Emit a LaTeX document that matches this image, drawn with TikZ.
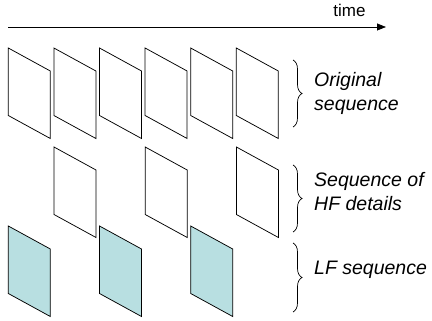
\documentclass[tikz,border=0pt]{standalone}
\usepackage{fontspec}
\setmainfont{Liberation Sans}
\usetikzlibrary{arrows.meta,decorations.pathreplacing}
\definecolor{lfteal}{HTML}{B8DFE1}
\tikzset{
  framebox/.style={draw=black,line width=0.75pt,line join=miter},
  lfbox/.style={framebox,fill=lfteal},
  bracestyle/.style={draw=black,line width=0.7pt,decorate,decoration={brace,amplitude=9pt,aspect=0.5}},
  label/.style={font=\fontsize{19.5}{24}\selectfont\itshape,align=left,anchor=west,inner sep=0pt},
  timearrow/.style={draw=black,line width=0.75pt,-{Triangle[length=9pt,width=7pt]}}
}
\newcommand{\frm}[3]{\path[#1] (#2,#3) -- ++(42,23) -- ++(0,67.5) -- ++(-42,-23) -- cycle;}
\begin{document}
\begin{tikzpicture}[x=1pt,y=-1pt]
\useasboundingbox (0,0) rectangle (432,321);
% time axis
\coordinate (tstart) at (8,27);
\coordinate (tend) at (386,27);
\draw[timearrow] (tstart) -- (tend);
\node[font=\fontsize{17}{20}\selectfont,inner sep=0pt] (time) at (349.5,10.5) {time};
% original sequence
\foreach \i in {0,...,5} {
  \pgfmathsetmacro{\xx}{8.3+45.6*\i}
  \frm{framebox}{\xx}{48}
}
% HF details
\foreach \i in {0,2,4} {
  \pgfmathsetmacro{\xx}{54+45.6*\i}
  \frm{framebox}{\xx}{147}
}
% LF sequence
\foreach \i in {0,2,4} {
  \pgfmathsetmacro{\xx}{8.3+45.6*\i}
  \frm{lfbox}{\xx}{226}
}
% braces
\coordinate (b1t) at (293,60);
\coordinate (b1b) at (293,127);
\coordinate (b2t) at (293,165);
\coordinate (b2b) at (293,232);
\coordinate (b3t) at (293,243);
\coordinate (b3b) at (293,312);
\draw[bracestyle] (b1t) -- (b1b);
\draw[bracestyle] (b2t) -- (b2b);
\draw[bracestyle] (b3t) -- (b3b);
% labels
\node[label] (orig) at (314,93.5) {Original\\sequence};
\node[label] (hf) at (314,192) {Sequence of\\HF details};
\node[label] (lf) at (314,270) {LF sequence};
\end{tikzpicture}
\end{document}
